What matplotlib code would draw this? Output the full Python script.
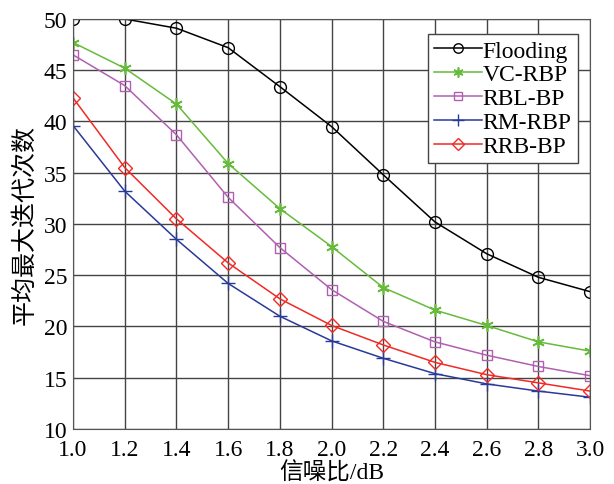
import matplotlib
matplotlib.use("Agg")
from matplotlib import pyplot as plt

plt.rcParams['font.family'] = ['Liberation Serif', 'Noto Sans CJK SC']

# 信噪比 (dB)
snr = [1.0, 1.2, 1.4, 1.6, 1.8, 2.0, 2.2, 2.4, 2.6, 2.8, 3.0]

# 平均最大迭代次数
flooding = [50.0, 50.0, 49.1, 47.2, 43.4, 39.5, 34.8, 30.2, 27.1, 24.8, 23.4]
vc_rbp   = [47.7, 45.2, 41.7, 35.9, 31.5, 27.8, 23.8, 21.6, 20.1, 18.5, 17.6]
rbl_bp   = [46.5, 43.5, 38.7, 32.6, 27.7, 23.6, 20.5, 18.5, 17.2, 16.1, 15.2]
rm_rbp   = [39.6, 33.2, 28.5, 24.2, 21.0, 18.6, 16.9, 15.4, 14.4, 13.7, 13.1]
rrb_bp   = [42.3, 35.5, 30.5, 26.2, 22.7, 20.1, 18.2, 16.5, 15.3, 14.5, 13.7]

fig = plt.figure(figsize=(6.14, 4.85), dpi=100)
ax = fig.add_axes([0.119, 0.1134, 0.842, 0.8454])

ax.plot(snr, flooding, color="black", lw=1.1, marker="o", ms=8.5, mfc="none", mew=1.0, label="Flooding")
ax.plot(snr, vc_rbp, color="#66bb3a", lw=1.1, marker=(6, 2, 0), ms=9, mew=1.2, label="VC-RBP")
ax.plot(snr, rbl_bp, color="#b060b0", lw=1.1, marker="s", ms=7.5, mfc="none", mew=1.0, label="RBL-BP")
ax.plot(snr, rm_rbp, color="#2a3a98", lw=1.1, marker="+", ms=10, mew=1.0, label="RM-RBP")
ax.plot(snr, rrb_bp, color="#f02a24", lw=1.1, marker="D", ms=7.5, mfc="none", mew=1.0, label="RRB-BP")

ax.set_xlim(1.0, 3.0)
ax.set_ylim(10, 50)
ax.set_xticks(snr)
ax.set_xticklabels(["%.1f" % v for v in snr])
ax.set_yticks(range(10, 51, 5))
ax.tick_params(labelsize=17, length=0)
ax.tick_params(axis="x", pad=7)
ax.tick_params(axis="y", pad=4)
ax.grid(True, color="#444444", lw=1.0)
for s in ax.spines.values():
    s.set_color("#555555")

ax.set_xlabel("信噪比/dB", fontsize=17, labelpad=1)
ax.set_ylabel("平均最大迭代次数", fontsize=18, labelpad=5)

leg = ax.legend(loc="upper right", bbox_to_anchor=(0.976, 0.963), fontsize=17, fancybox=False,
                framealpha=1, edgecolor="#444444", handlelength=2.0, handletextpad=0.05,
                labelspacing=0.1, borderpad=0.25, borderaxespad=0, markerscale=0.8)
leg.get_frame().set_linewidth(1.0)

fig.savefig("out.png", dpi=100)
